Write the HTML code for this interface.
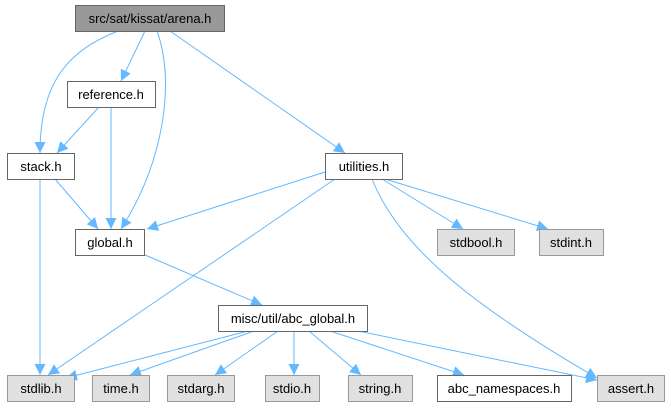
<!DOCTYPE html><html><head><style>body{margin:0;background:#fff}svg{display:block}text{font-family:"Liberation Sans",Arial,sans-serif;font-size:13px;text-anchor:middle}</style></head><body>
<svg width="671" height="411" viewBox="0 0 671 411">
<defs><marker id="a" markerWidth="12" markerHeight="12" refX="11" refY="5.5" orient="auto" markerUnits="userSpaceOnUse"><path d="M0,0 L11,5.5 L0,11 z" fill="#63b8ff"/></marker></defs>
<g stroke="#63b8ff" fill="none" stroke-width="1" marker-end="url(#a)">
<path d="M118,31 C70,50 40,80 40,153"/>
<path d="M145,31 L121,81"/>
<path d="M157,31 C175,80 165,160 121,229"/>
<path d="M170,31 L345,153"/>
<path d="M99,107 L57,153"/>
<path d="M111,107 L111,229"/>
<path d="M55,179 L98,229"/>
<path d="M40,179 L40,375"/>
<path d="M325,172 L147,229"/>
<path d="M335,179 L48,375"/>
<path d="M382,179 L463,229"/>
<path d="M385,179 L548,229"/>
<path d="M372,179 C400,250 480,310 597,378"/>
<path d="M145,255 L262,305"/>
<path d="M248,331 L66,378"/>
<path d="M254,331 L130,375"/>
<path d="M278,331 L215,375"/>
<path d="M294,331 L294,375"/>
<path d="M309,331 L361,375"/>
<path d="M330,331 L464,375"/>
<path d="M358,331 L597,380"/>
</g>
<g stroke-width="1">
<rect x="75.5" y="5.5" width="149" height="26" fill="#999" stroke="#666"/>
<rect x="67.5" y="81.5" width="88" height="26" fill="#fff" stroke="#666"/>
<rect x="7.5" y="153.5" width="67" height="26" fill="#fff" stroke="#666"/>
<rect x="325.5" y="153.5" width="77" height="26" fill="#fff" stroke="#666"/>
<rect x="75.5" y="229.5" width="69" height="26" fill="#fff" stroke="#666"/>
<rect x="437.5" y="229.5" width="77" height="26" fill="#e0e0e0" stroke="#999"/>
<rect x="539.5" y="229.5" width="64" height="26" fill="#e0e0e0" stroke="#999"/>
<rect x="218.5" y="305.5" width="149" height="26" fill="#fff" stroke="#666"/>
<rect x="7.5" y="375.5" width="67" height="26" fill="#e0e0e0" stroke="#999"/>
<rect x="92.5" y="375.5" width="57" height="26" fill="#e0e0e0" stroke="#999"/>
<rect x="167.5" y="375.5" width="67" height="26" fill="#e0e0e0" stroke="#999"/>
<rect x="265.5" y="375.5" width="54" height="26" fill="#e0e0e0" stroke="#999"/>
<rect x="348.5" y="375.5" width="64" height="26" fill="#e0e0e0" stroke="#999"/>
<rect x="437.5" y="375.5" width="134" height="26" fill="#fff" stroke="#666"/>
<rect x="597.5" y="375.5" width="67" height="26" fill="#e0e0e0" stroke="#999"/>
</g>
<g fill="#000">
<text x="150" y="23">src/sat/kissat/arena.h</text>
<text x="111" y="99">reference.h</text>
<text x="41" y="171">stack.h</text>
<text x="364" y="171">utilities.h</text>
<text x="110" y="247">global.h</text>
<text x="476" y="247">stdbool.h</text>
<text x="571" y="247">stdint.h</text>
<text x="293" y="323">misc/util/abc_global.h</text>
<text x="41" y="393">stdlib.h</text>
<text x="121" y="393">time.h</text>
<text x="201" y="393">stdarg.h</text>
<text x="292" y="393">stdio.h</text>
<text x="380" y="393">string.h</text>
<text x="504" y="393">abc_namespaces.h</text>
<text x="631" y="393">assert.h</text>
</g>
</svg></body></html>
